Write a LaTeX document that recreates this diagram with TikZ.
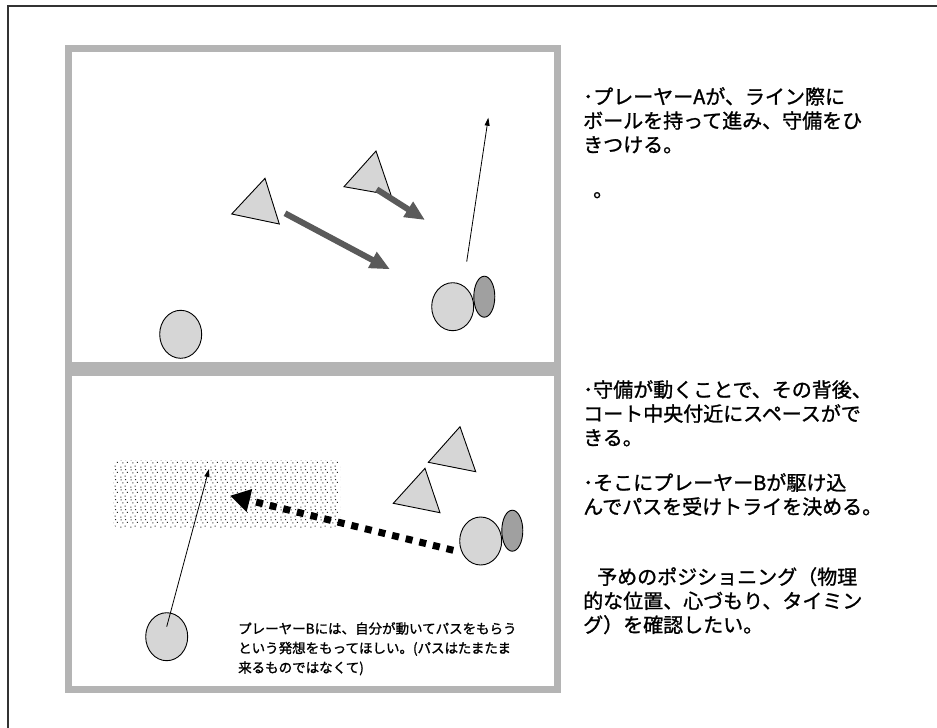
\documentclass[tikz,border=0pt]{standalone}
\usepackage{fontspec}
\newfontfamily\jp[FakeBold=1.2]{Noto Sans CJK JP}
\usetikzlibrary{arrows.meta,shapes.geometric,patterns}
\definecolor{framegray}{HTML}{B4B4B4}
\definecolor{lightfill}{HTML}{D6D6D6}
\definecolor{ballfill}{HTML}{A0A0A0}
\definecolor{rungray}{HTML}{5A5A5A}
\pgfdeclarepatternformonly{speckle}{\pgfqpoint{0pt}{0pt}}{\pgfqpoint{10pt}{10pt}}{\pgfqpoint{10pt}{10pt}}{%
  \pgfpathrectangle{\pgfqpoint{0.5pt}{0.5pt}}{\pgfqpoint{1.1pt}{1.1pt}}%
  \pgfpathrectangle{\pgfqpoint{5.0pt}{1.5pt}}{\pgfqpoint{1.1pt}{1.1pt}}%
  \pgfpathrectangle{\pgfqpoint{2.5pt}{5.0pt}}{\pgfqpoint{1.1pt}{1.1pt}}%
  \pgfpathrectangle{\pgfqpoint{7.5pt}{5.5pt}}{\pgfqpoint{1.1pt}{1.1pt}}%
  \pgfpathrectangle{\pgfqpoint{0.8pt}{8.2pt}}{\pgfqpoint{1.1pt}{1.1pt}}%
  \pgfpathrectangle{\pgfqpoint{5.5pt}{8.5pt}}{\pgfqpoint{1.1pt}{1.1pt}}%
  \pgfusepath{fill}}
\tikzset{
  panelframe/.style={draw=framegray, line width=7pt},
  player/.style={ellipse, draw=black, line width=0.9pt, fill=lightfill, inner sep=0pt, minimum width=42pt, minimum height=48pt},
  ballcarrier/.style={ellipse, draw=black, line width=0.9pt, fill=ballfill, inner sep=0pt, minimum width=21pt, minimum height=41pt},
  defender/.style={draw=black, line width=0.9pt, fill=lightfill, line join=miter},
  runarrow/.style={draw=rungray, line width=6pt, -{Triangle[length=20pt,width=17pt]}},
  thinarrow/.style={draw=black, line width=0.8pt, -{Triangle[length=8pt,width=5pt]}},
  passarrow/.style={draw=black, line width=7pt, dash pattern=on 7pt off 7pt, -{Triangle[length=20pt,width=22pt]}},
  bigtext/.style={font=\jp\fontsize{20}{24}\selectfont, anchor=north west, inner sep=0pt, align=left},
  smalltext/.style={font=\jp\fontsize{13.5}{19.5}\selectfont, anchor=north west, inner sep=0pt, align=left},
  space/.style={pattern=speckle, pattern color=black!85, rounded corners=6pt}
}
\begin{document}
\begin{tikzpicture}[x=1pt,y=-1pt]
\useasboundingbox (0,0) rectangle (937,728);
\fill[white] (0,0) rectangle (937,728);
% outer slide frame
\draw[line width=1.5pt, black!80] (8,728) -- (8,6) -- (937,6);
% panels
\draw[panelframe] (68.5,48.5) rectangle (557.5,365.5);
\draw[panelframe] (68.5,372.5) rectangle (557.5,689.5);

% ---------- top panel ----------
\draw[defender] (231.7,214) -- (265,178.3) -- (279.3,224) -- cycle;
\draw[defender] (344,186.7) -- (376,151) -- (391,195) -- cycle;
\coordinate (r1s) at (285,213.3);
\coordinate (r1e) at (390,269.3);
\coordinate (r2s) at (376.7,189.3);
\coordinate (r2e) at (425,220);
\draw[runarrow] (r1s) -- (r1e);
\draw[runarrow] (r2s) -- (r2e);
\node[player] (pA) at (452.7,306.7) {};
\node[ballcarrier] (ballA) at (484.3,296.7) {};
\node[player] (pB1) at (180.7,334.3) {};
\coordinate (a1s) at (466.7,261.7);
\coordinate (a1e) at (488.3,117.7);
\draw[thinarrow] (a1s) -- (a1e);

% ---------- bottom panel ----------
\path[space] (113.3,460) rectangle (340,528.3);
\draw[defender] (428.3,462.3) -- (460,426.7) -- (475.7,471.7) -- cycle;
\draw[defender] (393.3,503.3) -- (425,468.3) -- (440,512.7) -- cycle;
\node[player] (pA2) at (480.7,541) {};
\node[ballcarrier] (ballA2) at (512.3,530.7) {};
\node[player] (pB2) at (166.7,636.7) {};
\coordinate (ps) at (453.3,550.3);
\coordinate (pe) at (230,495.7);
\draw[passarrow] (ps) -- (pe);
\coordinate (b2s) at (166.7,626.7);
\coordinate (b2e) at (209,469);
\draw[thinarrow] (b2s) -- (b2e);

\node[smalltext] (cap) at (238,622) {プレーヤーBには、自分が動いてパスをもらう\\という発想をもってほしい。(パスはたまたま\\来るものではなくて)};

% ---------- texts ----------
\node[bigtext] (t1) at (583,87) {･プレーヤーAが、ライン際に\\ボールを持って進み、守備をひ\\きつける。};
\node[font=\jp\fontsize{20}{24}\selectfont, anchor=base west, inner sep=0pt] (t1b) at (593,197) {。};
\node[bigtext] (t2) at (583,380) {･守備が動くことで、その背後、\\コート中央付近にスペースがで\\きる。};
\node[bigtext] (t3) at (583,473) {･そこにプレーヤーBが駆け込\\んでパスを受けトライを決める。};
\node[bigtext] (t4) at (583,567) {\hspace*{14pt}予めのポジショニング（物理\\的な位置、心づもり、タイミン\\グ）を確認したい。};
\end{tikzpicture}
\end{document}
